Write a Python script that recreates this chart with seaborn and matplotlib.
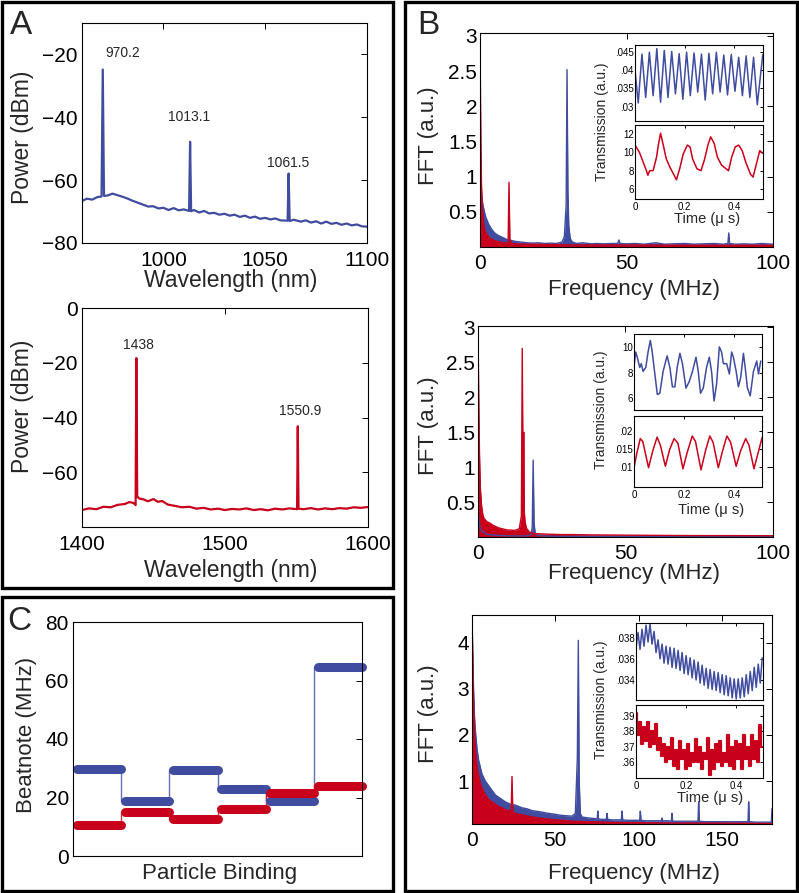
import seaborn as sns
import matplotlib.pyplot as plt
from matplotlib.patches import Rectangle

sns.set_style("white")
plt.rcParams['font.family'] = ['Liberation Sans', 'DejaVu Sans']

BLUE = '#3f4c9f'
RED = '#c9001b'

# ---- panel A: optical spectra ----
a1_wl = [960, 962.5, 965, 967.5, 969.6, 970.2, 970.8, 972.5, 975, 977.5,
         980, 982.5, 985, 987.5, 990, 992.5, 995, 997.5, 1000, 1002.5,
         1005, 1007.5, 1010, 1012.6, 1013.1, 1013.6, 1015, 1017.5, 1020, 1022.5,
         1025, 1027.5, 1030, 1032.5, 1035, 1037.5, 1040, 1042.5, 1045, 1047.5,
         1050, 1052.5, 1055, 1057.5, 1061.0, 1061.5, 1062.0, 1064, 1067.5, 1070,
         1072.5, 1075, 1077.5, 1080, 1082.5, 1085, 1087.5, 1090, 1092.5, 1095,
         1097.5, 1100]
a1_pw = [-66.6, -65.9, -66.2, -65.4, -65.2, -24.8, -65.0, -64.9, -64.3, -64.8,
         -65.3, -65.9, -66.6, -67.2, -67.8, -68.4, -68.3, -69.0, -68.8, -69.5,
         -68.9, -69.6, -69.3, -69.8, -47.8, -69.9, -69.5, -70.3, -69.8, -70.6,
         -70.4, -71.0, -70.7, -71.3, -71.0, -71.7, -71.3, -72.0, -71.6, -72.3,
         -72.0, -72.5, -72.2, -72.8, -72.9, -57.9, -73.0, -72.6, -73.2, -72.8,
         -73.5, -73.1, -73.8, -73.2, -73.9, -73.6, -74.2, -73.8, -74.4, -74.1,
         -74.7, -74.8]
a1_peaks = [970.2, 1013.1, 1061.5]
a1_label_pos = [(979.8, -19.7), (1012.5, -40.0), (1061.5, -54.6)]

a2_wl = [1400, 1405, 1410, 1415, 1420, 1425, 1430, 1433, 1436, 1437.5,
         1438.0, 1438.6, 1440, 1443, 1446, 1450, 1453, 1456, 1460, 1465,
         1470, 1475, 1480, 1485, 1490, 1495, 1500, 1505, 1510, 1515,
         1520, 1525, 1530, 1535, 1540, 1545, 1550.4, 1550.9, 1551.4, 1555,
         1560, 1565, 1570, 1575, 1580, 1585, 1590, 1595, 1600]
a2_pw = [-73.8, -73.2, -73.5, -72.6, -72.8, -71.9, -71.6, -70.9, -71.2, -72.0,
         -18.3, -68.8, -69.6, -69.9, -70.6, -69.8, -70.8, -70.5, -71.8, -72.3,
         -72.8, -72.6, -73.3, -73.0, -73.6, -73.3, -73.8, -73.4, -73.6, -73.2,
         -73.8, -73.5, -73.9, -73.3, -73.6, -73.2, -73.5, -43.2, -73.3, -73.5,
         -73.1, -73.6, -73.2, -73.5, -73.1, -73.3, -72.8, -73.0, -72.7]
a2_peaks = ['1438', '1550.9']
a2_label_pos = [(1439.2, -13.5), (1552.6, -37.5)]

# ---- panel C: beatnote steps ----
c_x = [0, 1, 2, 3, 4, 5, 6]
c_blue = [29.7, 18.9, 29.3, 22.8, 18.9, 64.7]
c_red = [10.6, 14.9, 12.5, 16.0, 21.6, 24.0]

# ---- panel B: FFT spectra ----
b1_f_blue = [0, 0.3, 0.6, 1, 1.5, 2, 3, 4, 5, 6, 7, 8, 9, 10, 12, 14, 16, 18, 20, 22,
             24, 26, 28, 28.8, 29.4, 29.7, 30.0, 30.3, 30.8, 31.5, 33, 35, 38, 40, 42,
             45, 47, 47.4, 47.8, 50, 53, 56, 60, 63, 66, 70, 73, 76, 80, 83,
             84.6, 84.9, 85.2, 87, 90, 93, 96, 100]
b1_p_blue = [1.3, 0.9, 0.7, 0.6, 0.5, 0.42, 0.32, 0.25, 0.2, 0.17, 0.15, 0.13, 0.11, 0.1,
             0.08, 0.07, 0.06, 0.055, 0.06, 0.05, 0.055, 0.05, 0.07, 0.15, 0.6, 2.52, 0.8,
             0.3, 0.12, 0.07, 0.05, 0.06, 0.045, 0.05, 0.045, 0.05, 0.05, 0.1, 0.05, 0.045,
             0.05, 0.04, 0.06, 0.04, 0.045, 0.05, 0.04, 0.045, 0.05, 0.04,
             0.05, 0.2, 0.05, 0.04, 0.045, 0.04, 0.05, 0.04]
b1_f_red = [0, 0.15, 0.3, 0.5, 0.8, 1.2, 1.6, 2, 3, 4, 5, 6, 7, 8, 9, 9.6, 9.9, 10.2,
            10.8, 12, 15, 18, 22, 26, 30, 35, 40, 50, 60, 70, 80, 90, 100]
b1_p_red = [3.0, 2.2, 1.5, 0.9, 0.55, 0.35, 0.25, 0.2, 0.14, 0.11, 0.09, 0.08, 0.07, 0.06,
            0.055, 0.07, 0.92, 0.1, 0.05, 0.045, 0.04, 0.04, 0.035, 0.035, 0.03, 0.03,
            0.03, 0.028, 0.028, 0.025, 0.025, 0.025, 0.025]

b2_f_blue = [0, 0.3, 0.6, 1, 2, 4, 8, 12, 16, 18, 18.4, 18.7, 19.0, 19.4, 20, 24, 30,
             40, 50, 60, 70, 80, 90, 100]
b2_p_blue = [0.35, 0.25, 0.15, 0.1, 0.06, 0.03, 0.02, 0.015, 0.015, 0.03, 0.15, 1.1, 0.2,
             0.05, 0.02, 0.012, 0.01, 0.01, 0.01, 0.01, 0.01, 0.01, 0.01, 0.01]
b2_f_red = [0, 0.15, 0.3, 0.5, 0.8, 1.2, 1.6, 2, 3, 4, 5, 6, 7, 8, 9, 10, 11, 12, 13, 14,
            14.7, 15.0, 15.3, 15.5, 15.7, 16.0, 16.5, 17.5, 19, 21, 24, 28, 32, 38, 45, 55,
            65, 75, 85, 100]
b2_p_red = [3.0, 2.4, 1.8, 1.2, 0.7, 0.45, 0.33, 0.27, 0.22, 0.2, 0.17, 0.15, 0.13, 0.12,
            0.11, 0.1, 0.1, 0.095, 0.1, 0.12, 0.3, 2.7, 0.6, 1.5, 0.35, 0.2, 0.12, 0.07,
            0.05, 0.045, 0.04, 0.035, 0.035, 0.03, 0.028, 0.025, 0.022, 0.02, 0.02, 0.018]

b3_f_blue = [0, 0.5, 1, 1.5, 2, 3, 4, 5, 6, 8, 10, 12, 14, 16, 18, 20, 23, 26, 30, 33,
             36, 40, 43, 46, 50, 53, 56, 60, 62, 63.2, 63.8, 64.3, 65, 66,
             70, 73, 75.1, 75.5, 75.9, 78, 80.6, 81, 81.4, 84, 87, 89.6, 90, 90.4, 93, 96,
             100.6, 101, 101.4, 104, 107, 110, 113.6, 114, 114.4, 118, 119.6, 120, 120.4,
             124, 128, 132, 135.6, 136, 136.4, 140, 145, 150, 155, 160, 165.6, 166, 166.4,
             170, 175, 179.6, 180]
b3_p_blue = [4.5, 3.6, 2.9, 2.4, 2.1, 1.7, 1.45, 1.3, 1.15, 1.0, 0.9, 0.8, 0.7, 0.65, 0.6,
             0.55, 0.5, 0.48, 0.42, 0.4, 0.36, 0.34, 0.32, 0.3, 0.28, 0.26, 0.25, 0.24,
             0.3, 1.5, 4.05, 1.0, 0.3, 0.22,
             0.2, 0.19, 0.18, 0.35, 0.18, 0.17, 0.17, 0.3, 0.17, 0.16, 0.16, 0.16, 0.35,
             0.16, 0.15, 0.15, 0.15, 0.35, 0.15, 0.14, 0.14, 0.14, 0.14, 0.2, 0.14, 0.14,
             0.13, 0.3, 0.13, 0.13, 0.13, 0.13, 0.13, 0.55, 0.13, 0.12, 0.12, 0.12, 0.12,
             0.12, 0.12, 0.55, 0.12, 0.11, 0.11, 0.11, 0.4]
b3_f_red = [0, 0.3, 0.6, 1, 1.5, 2, 3, 4, 5, 6, 8, 10, 12, 14, 16, 18, 20, 22, 23.5, 24,
            24.5, 26, 30, 35, 40, 45, 50, 55, 60, 70, 80, 90, 100, 120, 140, 160, 180]
b3_p_red = [4.6, 4.0, 3.3, 2.6, 2.0, 1.7, 1.3, 1.1, 0.95, 0.85, 0.7, 0.6, 0.55, 0.5, 0.45,
            0.42, 0.38, 0.36, 0.35, 1.1, 0.33, 0.3, 0.27, 0.23, 0.2, 0.18, 0.16, 0.15,
            0.13, 0.12, 0.11, 0.1, 0.1, 0.09, 0.09, 0.085, 0.08]

# ---- insets: time traces (us, a.u.) ----
i1_t_blue = [0, .013, .028, .043, .058, .073, .088, .103, .118, .133, .148, .163, .178,
             .193, .208, .223, .238, .253, .268, .283, .298, .313, .328, .343, .358, .373,
             .388, .403, .418, .433, .448, .463, .478, .493, .515]
i1_v_blue = [.040, .031, .0445, .0325, .0450, .0330, .0460, .0312, .0455, .0325, .0452,
             .0335, .0446, .0320, .0450, .0330, .0448, .0340, .0445, .0318, .0447, .0335,
             .0450, .0340, .0442, .0332, .0444, .0342, .0436, .0330, .0440, .0325, .0436,
             .0305, .0443]
i1_t_red = [0, .018, .032, .046, .052, .059, .073, .087, .094, .103, .114, .126, .142,
            .156, .167, .181, .194, .211, .222, .232, .25, .266, .28, .294, .305, .319,
            .332, .349, .363, .377, .39, .404, .418, .432, .448, .466, .476, .49, .503, .515]
i1_v_red = [10.8, 10.0, 9.0, 8.0, 7.5, 8.0, 8.0, 9.5, 10.8, 12.1, 10.8, 9.3, 8.3, 7.6,
            7.0, 8.3, 9.8, 10.8, 10.6, 9.3, 8.2, 8.0, 9.2, 10.8, 11.7, 11.0, 9.5, 8.6,
            8.3, 8.0, 9.5, 10.6, 10.8, 10.2, 8.8, 7.6, 7.3, 8.8, 10.2, 9.9]

i2_t_blue = [0, .007, .013, .023, .029, .036, .047, .056, .065, .072, .083, .093, .103,
             .116, .132, .143, .153, .163, .172, .183, .193, .207, .22, .233, .247, .256,
             .265, .276, .289, .3, .309, .319, .329, .34, .349, .356, .369, .38, .389, .396,
             .407, .416, .425, .436, .443, .452, .463, .476, .489, .496, .505]
i2_v_blue = [8.5, 9.6, 9.2, 8.4, 8.7, 8.1, 8.4, 9.6, 10.5, 9.7, 7.9, 6.3, 6.4, 8.1, 9.3,
             8.4, 6.9, 6.9, 8.4, 9.5, 8.7, 6.8, 7.3, 8.1, 9.2, 8.1, 6.4, 6.8, 8.4, 9.2,
             8.1, 5.8, 7.1, 10.0, 9.6, 8.7, 8.7, 7.9, 9.6, 9.2, 8.1, 6.9, 7.6, 9.5, 8.4,
             6.8, 6.2, 8.1, 8.9, 7.9, 8.9]
i2_t_red = [0, .012, .025, .035, .058, .075, .092, .105, .125, .142, .16, .175, .195,
            .212, .232, .245, .267, .285, .302, .315, .336, .352, .37, .385, .407, .425,
            .445, .458, .478, .495, .51]
i2_v_red = [.0098, .014, .0178, .017, .0098, .0145, .0182, .016, .0102, .0148, .0178,
            .0165, .0095, .014, .0185, .017, .0092, .0145, .0185, .0168, .0098, .0142,
            .0185, .0168, .0102, .0145, .0178, .016, .0095, .014, .018]

i3_t = [.000, .008, .016, .024, .032, .040, .048, .056, .064, .072, .080, .088, .096,
        .104, .112, .120, .128, .136, .144, .152, .160, .168, .176, .184, .192, .200,
        .208, .216, .224, .232, .240, .248, .256, .264, .272, .280, .288, .296, .304,
        .312, .320, .328, .336, .344, .352, .360, .368, .376, .384, .392, .400, .408,
        .416, .424, .432, .440, .448, .456, .464, .472, .480, .488, .496, .504]
i3_v_blue = [.0370, .0385, .0369, .0388, .0372, .0392, .0376, .0393, .0374, .0386, .0366,
             .0378, .0360, .0374, .0356, .0372, .0355, .0371, .0352, .0370, .0351, .0368,
             .0349, .0366, .0346, .0363, .0345, .0361, .0342, .0359, .0340, .0357, .0337,
             .0354, .0335, .0351, .0332, .0350, .0331, .0348, .0330, .0347, .0328, .0345,
             .0326, .0344, .0325, .0342, .0323, .0341, .0322, .0341, .0323, .0342, .0324,
             .0345, .0327, .0348, .0330, .0352, .0333, .0355, .0337, .0361]
i3_v_red = [.392, .378, .386, .372, .383, .374, .386, .370, .380, .372, .385, .368, .376,
            .364, .372, .360, .370, .362, .376, .358, .368, .356, .374, .362, .368, .356,
            .372, .358, .366, .360, .375, .360, .370, .356, .366, .362, .376, .352, .368,
            .356, .372, .360, .374, .358, .366, .360, .378, .358, .370, .356, .374, .362,
            .372, .356, .378, .362, .370, .358, .378, .362, .374, .360, .384, .370]

W, H = 799, 893
fig = plt.figure(figsize=(W / 100, H / 100), dpi=100)


def place(l, t, r, b):
    return fig.add_axes([l / W, 1 - b / H, (r - l) / W, (b - t) / H])


def ftext(x, y, s, **kw):
    fig.text(x / W, 1 - y / H, s, ha='center', va='center', **kw)


def frame(l, t, r, b):
    fig.add_artist(Rectangle((l / W, 1 - b / H), (r - l) / W, (b - t) / H,
                             transform=fig.transFigure, fill=False, lw=2.4, ec='black'))


def style(ax, size, length=4, xpad=5, ypad=2):
    ax.tick_params(direction='in', top=True, right=True, length=length, width=0.7,
                   labelsize=size, colors='black')
    ax.tick_params(axis='x', pad=xpad)
    ax.tick_params(axis='y', pad=ypad)
    for sp in ax.spines.values():
        sp.set_linewidth(0.8)
        sp.set_color('black')
    ax.set_xlabel('')
    ax.set_ylabel('')


def line(ax, x, y, color, lw=1.2, **kw):
    sns.lineplot(x=x, y=y, ax=ax, color=color, lw=lw, estimator=None, sort=False, **kw)


# panel frames
frame(2, 2, 393, 588)
frame(2, 597, 393, 891)
frame(405, 2, 797, 891)
ftext(21, 26, 'A', fontsize=24)
ftext(428, 26, 'B', fontsize=24)
ftext(19, 622, 'C', fontsize=24)

# A top
ax = place(82, 23, 367, 243)
line(ax, a1_wl, a1_pw, BLUE, lw=1.6)
ax.set_xlim(960, 1100)
ax.set_ylim(-80, -10)
ax.set_xticks([1000, 1050, 1100])
ax.set_yticks([-80, -60, -40, -20])
style(ax, 15, xpad=6, ypad=3)
for p, (x, y) in zip(a1_peaks, a1_label_pos):
    ax.text(x, y, f'{p}', ha='center', va='center', fontsize=10)
ftext(23, 137, 'Power (dBm)', fontsize=16.5, rotation=90)
ftext(231, 281, 'Wavelength (nm)', fontsize=16.5)

# A bottom
ax = place(82, 308, 368, 527)
line(ax, a2_wl, a2_pw, RED, lw=1.6)
ax.set_xlim(1400, 1600)
ax.set_ylim(-80, 0)
ax.set_xticks([1400, 1500, 1600])
ax.set_yticks([-60, -40, -20, 0])
style(ax, 15, xpad=6, ypad=3)
for p, (x, y) in zip(a2_peaks, a2_label_pos):
    ax.text(x, y, p, ha='center', va='center', fontsize=10)
ftext(23, 406, 'Power (dBm)', fontsize=16.5, rotation=90)
ftext(231, 571, 'Wavelength (nm)', fontsize=16.5)

# C
ax = place(73, 622, 362, 856)
line(ax, c_x, c_blue + c_blue[-1:], BLUE, lw=1.0, drawstyle='steps-post', alpha=0.8)
line(ax, c_x, c_red + c_red[-1:], RED, lw=1.0, drawstyle='steps-post', alpha=0.8)
for vals, col in [(c_blue, BLUE), (c_red, RED)]:
    for i, v in enumerate(vals):
        ax.plot([c_x[i] + 0.08, c_x[i + 1]], [v, v], color=col, lw=6.5,
                solid_capstyle='round', clip_on=False)
ax.set_xlim(0, 6)
ax.set_ylim(0, 80)
ax.set_xticks([])
ax.set_yticks([0, 20, 40, 60, 80])
style(ax, 15, ypad=3)
ftext(27, 735, 'Beatnote (MHz)', fontsize=16, rotation=90)
ftext(220, 874, 'Particle Binding', fontsize=16)

# B main FFT panels
fft_panels = [
    ((480, 33, 773, 247), b1_f_blue, b1_p_blue, b1_f_red, b1_p_red, (0, 100), (0, 3.04),
     [0, 50, 100], [0.5, 1, 1.5, 2, 2.5, 3], ['0.5', '1', '1.5', '2', '2.5', '3'], 136, 289),
    ((478, 326, 773, 537), b2_f_blue, b2_p_blue, b2_f_red, b2_p_red, (0, 100), (0, 3.02),
     [0, 50, 100], [0.5, 1, 1.5, 2, 2.5, 3], ['0.5', '1', '1.5', '2', '2.5', '3'], 426, 573),
    ((472, 615, 772, 824), b3_f_blue, b3_p_blue, b3_f_red, b3_p_red, (0, 180), (0.07, 4.6),
     [0, 50, 100, 150], [1, 2, 3, 4], ['1', '2', '3', '4'], 714, 874),
]
for box, fb, pb, fr, pr, xl, yl, xt, yt, ytl, ylab_y, xlab_y in fft_panels:
    ax = place(*box)
    ax.fill_between(fb, 0, pb, color=BLUE, lw=0)
    line(ax, fb, pb, BLUE, lw=1.0)
    ax.fill_between(fr, 0, pr, color=RED, lw=0)
    line(ax, fr, pr, RED, lw=1.0)
    ax.set_xlim(*xl)
    ax.set_ylim(*yl)
    ax.set_xticks(xt)
    ax.set_yticks(yt, ytl)
    style(ax, 15, xpad=5, ypad=2)
    ftext(429, ylab_y, 'FFT (a.u.)', fontsize=16, rotation=90)
    ftext(634, xlab_y, 'Frequency (MHz)', fontsize=16)

# insets
insets = [
    ((635, 45, 763, 121), i1_t_blue, i1_v_blue, (.026, .047), [.03, .035, .04, .045],
     ['.03', '.035', '.04', '.045'],
     (635, 125, 763, 199), i1_t_red, i1_v_red, (4.9, 13), [6, 8, 10, 12],
     ['6', '8', '10', '12'], (0, 0.516), 'default', 602, 122, 707, 219),
    ((634, 334, 762, 410), i2_t_blue, i2_v_blue, (5.1, 11), [6, 8, 10], ['6', '8', '10'],
     (634, 416, 762, 487), i2_t_red, i2_v_red, (.0045, .024), [.01, .015, .02],
     ['.01', '.015', '.02'], (0, 0.51), 'default', 601, 410, 711, 510),
    ((636, 623, 763, 700), i3_t, i3_v_blue, (.0321, .0394), [.034, .036, .038],
     ['.034', '.036', '.038'],
     (636, 705, 763, 778), i3_t, i3_v_red, (.350, .397), [.36, .37, .38, .39],
     ['.36', '.37', '.38', '.39'], (0, 0.507), 'steps-mid', 601, 700, 710, 798),
]
for (tb, tt, tv, tyl, tyt, tytl, bb, bt, bv, byl, byt, bytl, xl, bds,
     lx, ly, tx, ty) in insets:
    ax_t = place(*tb)
    line(ax_t, tt, tv, BLUE, lw=1.1)
    ax_t.set_xlim(*xl)
    ax_t.set_ylim(*tyl)
    ax_t.set_xticks([0, 0.2, 0.4], [])
    ax_t.set_yticks(tyt, tytl)
    style(ax_t, 7, length=2.5, xpad=2, ypad=1)
    ax_b = place(*bb)
    line(ax_b, bt, bv, RED, lw=1.6 if bds == 'steps-mid' else 1.1, drawstyle=bds)
    ax_b.set_xlim(*xl)
    ax_b.set_ylim(*byl)
    ax_b.set_xticks([0, 0.2, 0.4], ['0', '0.2', '0.4'])
    ax_b.set_yticks(byt, bytl)
    style(ax_b, 7, length=2.5, xpad=2, ypad=1)
    ftext(lx, ly, 'Transmission (a.u.)', fontsize=10, rotation=90)
    ftext(tx, ty, 'Time (\u03bc s)', fontsize=10.5)

fig.savefig('out.png', dpi=100, facecolor='white')
